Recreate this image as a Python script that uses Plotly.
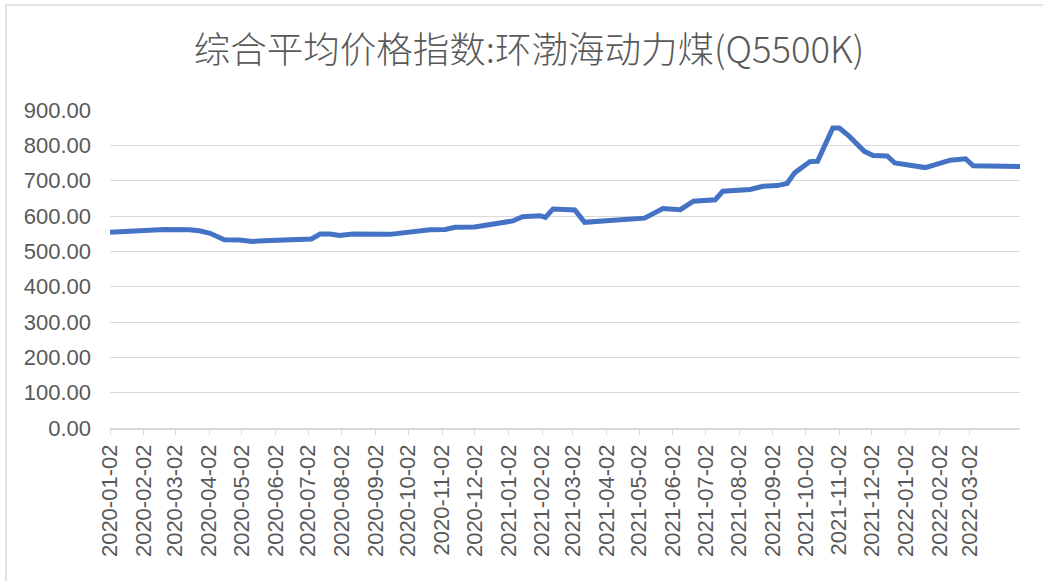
import plotly.graph_objects as go

# Vertices (date, index value)
dates = [
    "2020-01-02", "2020-02-05", "2020-02-21", "2020-03-15", "2020-03-24", "2020-04-03",
    "2020-04-16", "2020-04-30", "2020-05-12", "2020-05-28", "2020-06-24", "2020-07-05",
    "2020-07-13", "2020-07-22", "2020-07-31", "2020-08-12", "2020-09-15", "2020-10-22",
    "2020-11-05", "2020-11-14", "2020-12-02", "2020-12-25", "2021-01-06", "2021-01-15",
    "2021-01-31", "2021-02-05", "2021-02-12", "2021-03-04", "2021-03-13", "2021-04-05",
    "2021-04-17", "2021-05-07", "2021-05-24", "2021-06-09", "2021-06-21", "2021-07-11",
    "2021-07-18", "2021-08-12", "2021-08-24", "2021-09-06", "2021-09-15", "2021-09-22",
    "2021-10-06", "2021-10-13", "2021-10-27", "2021-11-02", "2021-11-11", "2021-11-25",
    "2021-12-03", "2021-12-16", "2021-12-23", "2022-01-20", "2022-02-12", "2022-02-26",
    "2022-03-05", "2022-03-25", "2022-04-17",
]
values = [
    554, 558, 562, 561, 558, 551,
    533, 532, 528, 531, 534, 535,
    549, 549, 545, 549, 548, 561,
    562, 568, 569, 582, 586, 598,
    601, 596, 620, 617, 582, 587,
    590, 594, 621, 618, 642, 646,
    670, 675, 684, 686, 692, 722,
    754, 755, 849, 849, 826, 783,
    771, 770, 750, 737, 758, 762,
    742, 740, 740,
]

tick_dates = [
    "2020-01-02", "2020-02-02", "2020-03-02", "2020-04-02", "2020-05-02", "2020-06-02",
    "2020-07-02", "2020-08-02", "2020-09-02", "2020-10-02", "2020-11-02", "2020-12-02",
    "2021-01-02", "2021-02-02", "2021-03-02", "2021-04-02", "2021-05-02", "2021-06-02",
    "2021-07-02", "2021-08-02", "2021-09-02", "2021-10-02", "2021-11-02", "2021-12-02",
    "2022-01-02", "2022-02-02", "2022-03-02",
]
y_ticks = [0, 100, 200, 300, 400, 500, 600, 700, 800, 900]

title_text = "综合平均价格指数:环渤海动力煤(Q5500K)"

W, H = 1043, 581
L, R, T, B = 110, 23, 110, 153
pw, ph = W - L - R, H - T - B

fig = go.Figure()
fig.add_trace(go.Scatter(
    x=dates, y=values, mode="lines",
    line=dict(color="#4472C4", width=5),
    hoverinfo="x+y",
))

def px_x(p):
    return (p - L) / pw

def px_y(p):
    return (H - B - p) / ph

fig.add_shape(type="rect", xref="paper", yref="paper",
              x0=px_x(6), x1=px_x(1060), y0=px_y(600), y1=px_y(5),
              line=dict(color="#d9d9d9", width=1.5), fillcolor="rgba(0,0,0,0)",
              layer="below")

fig.update_layout(
    width=W, height=H,
    margin=dict(l=L, r=R, t=T, b=B, autoexpand=False),
    paper_bgcolor="white", plot_bgcolor="white",
    font=dict(family="Liberation Sans, Noto Sans CJK SC, sans-serif", color="#595959"),
    title=dict(text=title_text, x=529 / W, xanchor="center", xref="container",
               y=1 - 50 / H, yanchor="middle", yref="container",
               font=dict(size=36.5, color="#595959", weight=300,
                         family="Noto Sans CJK SC, Liberation Sans, sans-serif")),
    showlegend=False,
    xaxis=dict(
        type="date",
        range=["2020-01-02", "2022-04-17"],
        tickmode="array", tickvals=tick_dates, ticktext=tick_dates,
        tickangle=-90, tickfont=dict(size=22, color="#595959"),
        ticks="outside", ticklen=5, tickcolor="#d9d9d9", tickwidth=1.3,
        showline=True, linecolor="#d9d9d9", linewidth=1.5,
        showgrid=False, zeroline=False,
        ticklabelstandoff=1,
    ),
    yaxis=dict(
        range=[0, 900], tickmode="array", tickvals=y_ticks,
        tickformat=".2f", tickfont=dict(size=22, color="#595959"),
        showgrid=True, gridcolor="#d9d9d9", gridwidth=1.3,
        zeroline=False, showline=False, ticks="",
        ticklabelstandoff=18,
    ),
)

fig.write_html("out.html", config={"displayModeBar": False},
               post_script="document.body.style.margin='0';")
